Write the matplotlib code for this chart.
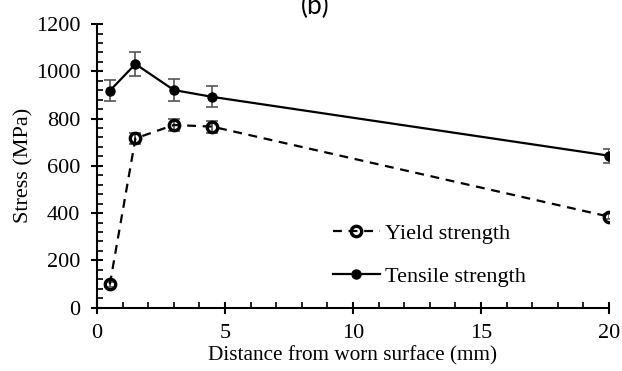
import matplotlib.pyplot as plt
from matplotlib.ticker import MultipleLocator

# Mechanical properties vs. distance from the worn surface
distance = [0.5, 1.5, 3.0, 4.5, 20.0]
yield_strength = [98, 716, 773, 766, 385]
yield_err = [10, 25, 25, 25, 12]
tensile_strength = [918, 1031, 921, 892, 643]
tensile_err = [44, 50, 46, 44, 30]

plt.rcParams['font.family'] = ['Liberation Serif', 'DejaVu Serif']
plt.rcParams['font.size'] = 16

fig = plt.figure(figsize=(6.22, 3.71), dpi=100)
ax = fig.add_axes([0.156, 0.171, 0.823, 0.764])

ax.errorbar(distance, yield_strength, yerr=yield_err, fmt='none',
            ecolor='#555555', elinewidth=1.2, capsize=4, capthick=1.2, zorder=2)
ax.errorbar(distance, tensile_strength, yerr=tensile_err, fmt='none',
            ecolor='#555555', elinewidth=1.2, capsize=4, capthick=1.2, zorder=2)

ax.plot(distance, yield_strength, color='black', lw=1.6, dashes=(4, 3),
        marker='o', ms=7.5, mfc='none', mec='black', mew=2.4,
        label='Yield strength', zorder=3)
ax.plot(distance, tensile_strength, color='black', lw=1.6,
        marker='o', ms=6.5, mfc='black', mec='black',
        label='Tensile strength', zorder=3)

ax.set_xlim(0, 20)
ax.set_ylim(0, 1200)
ax.xaxis.set_major_locator(MultipleLocator(5))
ax.xaxis.set_minor_locator(MultipleLocator(1))
ax.yaxis.set_major_locator(MultipleLocator(200))
ax.yaxis.set_minor_locator(MultipleLocator(40))
ax.tick_params(which='major', direction='inout', length=8, width=1.5, pad=8)
ax.tick_params(which='minor', direction='in', length=4, width=1.2)

for side in ['top', 'right']:
    ax.spines[side].set_visible(False)
for side in ['left', 'bottom']:
    ax.spines[side].set_linewidth(1.5)

ax.set_xlabel('Distance from worn surface (mm)', fontsize=15.3, labelpad=2)
ax.set_ylabel('Stress (MPa)', labelpad=2)

ax.legend(loc='center left', bbox_to_anchor=(0.461, 0.186), frameon=False,
          borderpad=0, borderaxespad=0,
          handlelength=2.1, handletextpad=0.25, labelspacing=1.0,
          fontsize=16)

fig.text(0.507, 1 - 14 / 371, '(b)', family=['Lato', 'DejaVu Sans'],
         fontsize=19, ha='center', va='baseline')

fig.savefig('out.png', dpi=100)
